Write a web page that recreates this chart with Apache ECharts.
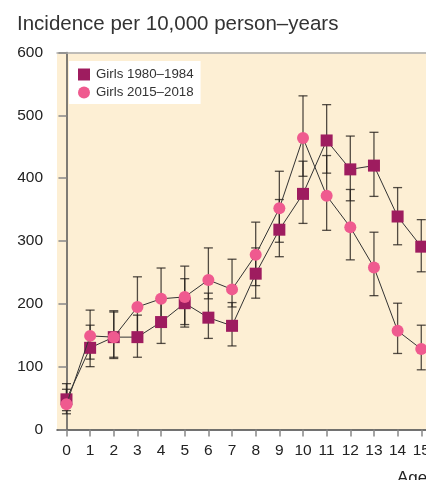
<!DOCTYPE html>
<html>
<head>
<meta charset="utf-8">
<script src="https://cdn.jsdelivr.net/npm/echarts@6/dist/echarts.min.js"></script>
<style>html,body{margin:0;padding:0;background:#fff;}#c{width:426px;height:480px;}</style>
</head>
<body>
<div id="c"></div>
<script>
const ages = [0,1,2,3,4,5,6,7,8,9,10,11,12,13,14,15];
const tickLabels = ['0','1','2','3','4','5','6','7','8','9','10','11','12','13','14','15'];
const seriesNames = ['Girls 1980\u20131984', 'Girls 2015\u20132018'];
const girls1980 = [48,130,147,147,171,201,178,165,248,318,375,460,414,420,339,291];
const girls1980Lo = [30,100,113,115,137,163,145,133,209,275,328,408,364,371,294,251];
const girls1980Hi = [73,166,187,182,208,240,217,202,289,366,427,517,467,473,385,334];
const girls2015 = [40,149,147,195,208,211,238,223,278,352,464,372,322,258,157,128];
const girls2015Lo = [25,112,115,148,171,167,208,195,229,298,403,317,270,213,121,95];
const girls2015Hi = [64,190,189,243,257,260,289,271,330,411,531,436,382,314,201,166];

const chart = echarts.init(document.getElementById('c'), null, {renderer:'canvas'});
const FONT = '"Liberation Sans", Arial, Helvetica, sans-serif';

function errSeries(lo, hi) {
  return {
    type: 'custom',
    z: 1,
    silent: true,
    clip: false,
    data: ages.map((a,i) => [a, lo[i], hi[i]]),
    encode: {x: 0, y: [1,2]},
    renderItem: function(params, api) {
      const x = api.value(0), l = api.value(1), h = api.value(2);
      const pt = api.coord([x, h]);
      const pb = api.coord([x, l]);
      const w = 4.5;
      const st = {stroke: 'rgba(35,30,25,0.78)', lineWidth: 1.3};
      return {type: 'group', children: [
        {type:'line', shape:{x1:pt[0], y1:pt[1], x2:pb[0], y2:pb[1]}, style: st},
        {type:'line', shape:{x1:pt[0]-w, y1:pt[1], x2:pt[0]+w, y2:pt[1]}, style: st},
        {type:'line', shape:{x1:pb[0]-w, y1:pb[1], x2:pb[0]+w, y2:pb[1]}, style: st}
      ]};
    }
  };
}

const xMin = -0.4, xMax = 15.2;
const option = {
  animation: false,
  textStyle: {fontFamily: FONT},
  title: {
    text: 'Incidence per 10,000 person\u2013years',
    left: 12, top: 9,
    textStyle: {fontFamily: FONT, fontSize: 20.5, fontWeight: 'normal', color: '#333'}
  },
  legend: {
    orient: 'vertical',
    left: 69, top: 61,
    backgroundColor: '#ffffff',
    padding: [7, 7, 5, 9],
    itemGap: 5,
    itemWidth: 12, itemHeight: 12,
    data: [{name: seriesNames[0], icon: 'rect'}, {name: seriesNames[1], icon: 'circle'}],
    textStyle: {fontFamily: FONT, fontSize: 13.3, color: '#333', padding: [0,0,0,1]}
  },
  grid: {
    left: 57, top: 52.5, right: 0, bottom: 50.5,
    outerBoundsMode: 'none', containLabel: false,
    show: true, backgroundColor: '#fdefd4', borderWidth: 0
  },
  xAxis: [{
    type: 'value', min: xMin, max: xMax,
    splitLine: {show: false},
    axisLine: {lineStyle: {color: '#444', width: 1.5}},
    axisTick: {show: true, length: 7, lineStyle: {color: '#888', width: 1.5},
      customValues: ages},
    axisLabel: {customValues: ages, fontSize: 15.5, color: '#222', margin: 13,
      hideOverlap: false,
      formatter: v => tickLabels[Math.round(v)]}
  }, {
    type: 'value', position: 'top', min: xMin, max: xMax,
    splitLine: {show: false},
    axisLine: {show: true, lineStyle: {color: '#aaa', width: 1.5}},
    axisTick: {show: false}, axisLabel: {show: false}
  }],
  yAxis: {
    type: 'value', min: 0, max: 600, interval: 100,
    splitLine: {show: false},
    axisLine: {show: true, lineStyle: {color: '#555', width: 1.5}},
    axisTick: {show: true, length: 8, lineStyle: {color: '#888', width: 1.5}},
    axisLabel: {fontSize: 15.5, color: '#222', margin: 14}
  },
  graphic: [{
    type: 'text', left: 397, top: 470,
    style: {text: 'Age', fontFamily: FONT, fontSize: 17, fill: '#222'}
  }],
  series: [
    errSeries(girls1980Lo, girls1980Hi),
    errSeries(girls2015Lo, girls2015Hi),
    {
      name: seriesNames[0], type: 'line', z: 3,
      data: ages.map((a,i) => [a, girls1980[i]]),
      symbol: 'rect', symbolSize: 12,
      itemStyle: {color: '#9e1c5f'},
      lineStyle: {color: '#333', width: 1}
    },
    {
      name: seriesNames[1], type: 'line', z: 4,
      data: ages.map((a,i) => [a, girls2015[i]]),
      symbol: 'circle', symbolSize: 12,
      itemStyle: {color: '#ef5a8f'},
      lineStyle: {color: '#333', width: 1}
    }
  ]
};
chart.setOption(option);
</script>
</body>
</html>
